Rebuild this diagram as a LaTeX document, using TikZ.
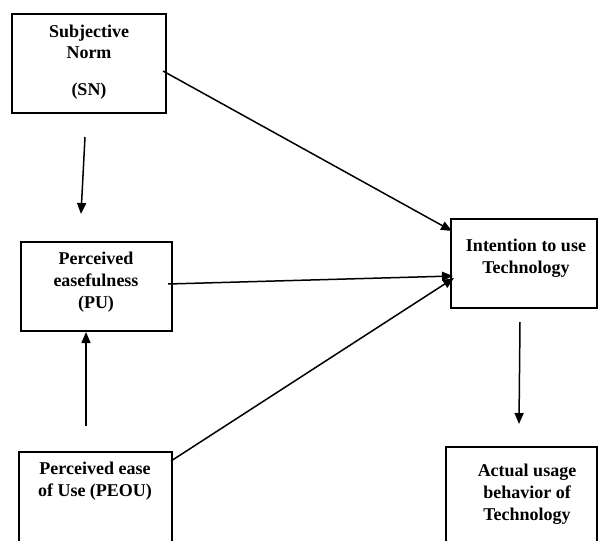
\documentclass[tikz,border=0pt]{standalone}
\usepackage{fontspec}
\setmainfont{Liberation Serif}
\usetikzlibrary{arrows.meta}
\begin{document}
\begin{tikzpicture}[x=1pt,y=-1pt,
  box/.style={draw,line width=1.6pt,rectangle,inner sep=0pt},
  lbl/.style={font=\fontsize{18}{22}\selectfont\bfseries,align=center,inner sep=0pt,anchor=base},
  conn/.style={line width=1.5pt,-{Triangle[length=11pt,width=9pt]}}]
\clip (0,0) rectangle (598,541);
\fill[white] (0,0) rectangle (598,541);
% boxes
\node[box,minimum width=154pt,minimum height=99pt] (sn) at (89,63.5) {};
\node[box,minimum width=151pt,minimum height=89pt] (pu) at (96.5,286.5) {};
\node[box,minimum width=153pt,minimum height=100pt] (peou) at (95.5,502) {};
\node[box,minimum width=146pt,minimum height=89pt] (itu) at (524,263.5) {};
\node[box,minimum width=151pt,minimum height=110pt] (au) at (521.5,502) {};
% texts
\node[lbl] (snt1) at (89,37) {Subjective};
\node[lbl] (snt2) at (89,58) {Norm};
\node[lbl] (snt3) at (89,95) {(SN)};
\node[lbl] (put) at (96,308) {Perceived\\easefulness\\(PU)};
\node[lbl] (peout) at (95,496) {Perceived ease\\of Use (PEOU)};
\node[lbl] (itut) at (526,273) {Intention to use\\Technology};
\node[lbl] (aut) at (527,520) {Actual usage\\behavior of\\Technology};
% connector ends
\coordinate (a1) at (85,137);
\coordinate (a2) at (81,214);
\coordinate (b1) at (163,71);
\coordinate (b2) at (452,231);
\coordinate (c1) at (168,284);
\coordinate (c2) at (453,276);
\coordinate (d1) at (171,461);
\coordinate (d2) at (454,278);
\coordinate (e1) at (86,426);
\coordinate (e2) at (86,332);
\coordinate (f1) at (520,322);
\coordinate (f2) at (519,424);
\draw[conn] (a1) -- (a2);
\draw[conn] (b1) -- (b2);
\draw[conn] (c1) -- (c2);
\draw[conn] (d1) -- (d2);
\draw[conn] (e1) -- (e2);
\draw[conn] (f1) -- (f2);
\end{tikzpicture}
\end{document}
